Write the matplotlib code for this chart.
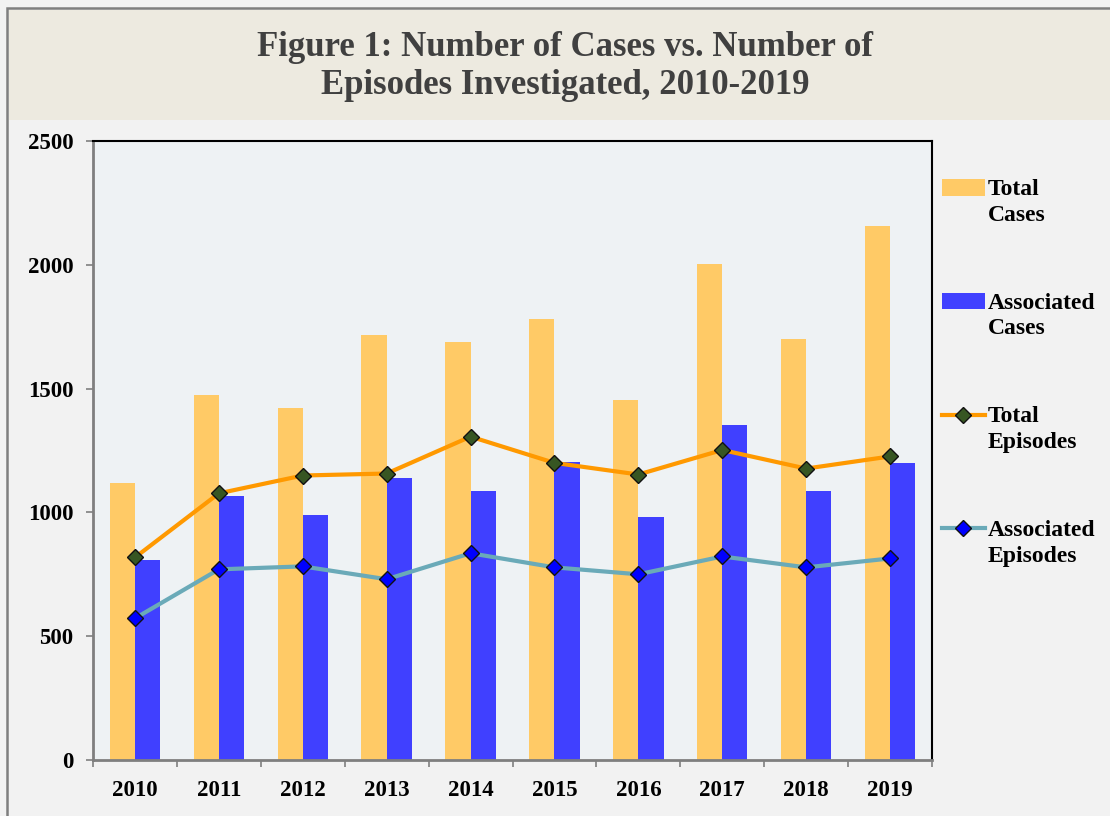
import numpy as np
import matplotlib
matplotlib.use("Agg")
import matplotlib.pyplot as plt
from matplotlib.patches import Rectangle

# data
years = ["2010", "2011", "2012", "2013", "2014", "2015", "2016", "2017", "2018", "2019"]
total_cases = [1120, 1475, 1420, 1715, 1690, 1780, 1455, 2005, 1700, 2155]
associated_cases = [808, 1068, 990, 1137, 1085, 1205, 980, 1351, 1085, 1200]
total_episodes = [818, 1077, 1149, 1157, 1306, 1200, 1153, 1252, 1177, 1226]
associated_episodes = [572, 770, 782, 730, 835, 778, 750, 822, 778, 814]

plt.rcParams['font.family'] = ['Liberation Serif', 'DejaVu Serif']
plt.rcParams['font.weight'] = 'bold'

W, H = 1110, 816
fig = plt.figure(figsize=(W / 100, H / 100), dpi=100, facecolor="#F2F2F2")

# outer frame and title band
fig.patches.append(Rectangle((7 / W, -0.1), 2.0, 1.1 - 8 / H, transform=fig.transFigure,
                             facecolor="none", edgecolor="#7F7F7F", linewidth=1.8, zorder=0))
fig.patches.append(Rectangle((9 / W, (H - 120) / H), 1.0, 110 / H, transform=fig.transFigure,
                             facecolor="#EDEAE0", edgecolor="none", zorder=0))
fig.text(565 / W, (H - 66) / H, "Figure 1: Number of Cases vs. Number of\nEpisodes Investigated, 2010-2019",
         ha="center", va="center", fontsize=25, fontweight="bold", color="#404040", linespacing=1.2)

ax = fig.add_axes([93 / W, (H - 760) / H, (932 - 93) / W, (760 - 141) / H])
ax.set_facecolor("#EEF2F4")

x = np.arange(len(years))
bw = 0.3
b1 = ax.bar(x - bw / 2, total_cases, bw, color="#FFCA66", zorder=2)
b2 = ax.bar(x + bw / 2, associated_cases, bw, color="#4040FF", zorder=2)
l1, = ax.plot(x, total_episodes, color="#FF9900", linewidth=3, marker="D", markersize=8,
              markerfacecolor="#375623", markeredgecolor="#111111", markeredgewidth=1, zorder=3)
l2, = ax.plot(x, associated_episodes, color="#6AAAB8", linewidth=3, marker="D", markersize=8,
              markerfacecolor="#0000FF", markeredgecolor="#111111", markeredgewidth=1, zorder=3)

ax.set_xlim(-0.5, len(years) - 0.5)
ax.set_ylim(0, 2500)
ax.set_yticks([0, 500, 1000, 1500, 2000, 2500])
ax.set_xticks(x)
ax.set_xticklabels(years)
ax.set_xticks(np.arange(len(years) + 1) - 0.5, minor=True)
ax.tick_params(axis="x", which="major", length=0, pad=14.5, labelsize=16.5)
ax.tick_params(axis="x", which="minor", length=5, width=1.2, color="#7F7F7F", direction="out")
ax.tick_params(axis="y", length=5, width=1.2, color="#7F7F7F", pad=9, labelsize=16.5)

for s in ["left", "bottom"]:
    ax.spines[s].set_color("#7F7F7F")
    ax.spines[s].set_linewidth(2)
for s in ["top", "right"]:
    ax.spines[s].set_color("black")
    ax.spines[s].set_linewidth(1.5)

leg = fig.legend([b1, b2, l1, l2],
                 ["Total\nCases", "Associated\nCases", "Total\nEpisodes", "Associated\nEpisodes"],
                 loc="upper left", bbox_to_anchor=(942 / W, (H - 179) / H), frameon=False,
                 fontsize=17, handlelength=1.8, handletextpad=0.15, labelspacing=2.83,
                 borderpad=0, borderaxespad=0)
for t in leg.get_texts():
    t.set_linespacing(1.3)
# put the handle next to the first line of each label
for col in leg._legend_handle_box.get_children():
    for row in col.get_children():
        row.align = "top"

fig.savefig("out.png", dpi=100, facecolor=fig.get_facecolor())
